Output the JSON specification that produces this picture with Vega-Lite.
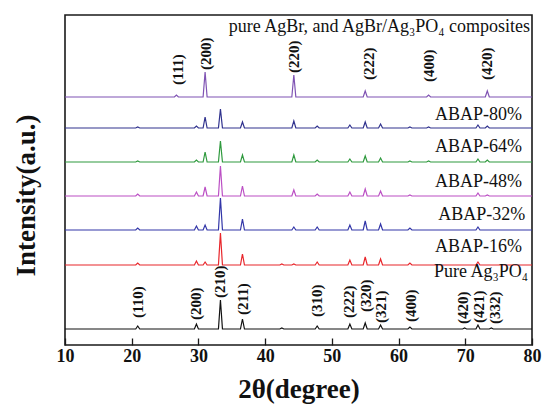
{
  "$schema": "https://vega.github.io/schema/vega-lite/v6.json",
  "width": 467,
  "height": 330,
  "autosize": "none",
  "padding": {"left": 65, "top": 15, "right": 11, "bottom": 60},
  "background": "white",
  "config": {"view": {"stroke": "#1a1a1a", "strokeWidth": 1.6}, "font": "Liberation Serif"},
  "datasets": {
    "xrd": [
      {"sample":"Pure Ag3PO4","theta":10,"intensity":16},
      {"sample":"Pure Ag3PO4","theta":20.6,"intensity":16},{"sample":"Pure Ag3PO4","theta":20.9,"intensity":19},{"sample":"Pure Ag3PO4","theta":21.2,"intensity":16},
      {"sample":"Pure Ag3PO4","theta":29.4,"intensity":16},{"sample":"Pure Ag3PO4","theta":29.7,"intensity":21},{"sample":"Pure Ag3PO4","theta":30,"intensity":16},
      {"sample":"Pure Ag3PO4","theta":33,"intensity":16},{"sample":"Pure Ag3PO4","theta":33.3,"intensity":45},{"sample":"Pure Ag3PO4","theta":33.6,"intensity":16},
      {"sample":"Pure Ag3PO4","theta":36.3,"intensity":16},{"sample":"Pure Ag3PO4","theta":36.6,"intensity":26},{"sample":"Pure Ag3PO4","theta":36.9,"intensity":16},
      {"sample":"Pure Ag3PO4","theta":42.2,"intensity":16},{"sample":"Pure Ag3PO4","theta":42.5,"intensity":17},{"sample":"Pure Ag3PO4","theta":42.8,"intensity":16},
      {"sample":"Pure Ag3PO4","theta":47.5,"intensity":16},{"sample":"Pure Ag3PO4","theta":47.8,"intensity":19},{"sample":"Pure Ag3PO4","theta":48.1,"intensity":16},
      {"sample":"Pure Ag3PO4","theta":52.4,"intensity":16},{"sample":"Pure Ag3PO4","theta":52.7,"intensity":21},{"sample":"Pure Ag3PO4","theta":53,"intensity":16},
      {"sample":"Pure Ag3PO4","theta":54.7,"intensity":16},{"sample":"Pure Ag3PO4","theta":55,"intensity":22},{"sample":"Pure Ag3PO4","theta":55.3,"intensity":16},
      {"sample":"Pure Ag3PO4","theta":57,"intensity":16},{"sample":"Pure Ag3PO4","theta":57.3,"intensity":20},{"sample":"Pure Ag3PO4","theta":57.6,"intensity":16},
      {"sample":"Pure Ag3PO4","theta":61.4,"intensity":16},{"sample":"Pure Ag3PO4","theta":61.7,"intensity":18},{"sample":"Pure Ag3PO4","theta":62,"intensity":16},
      {"sample":"Pure Ag3PO4","theta":69.6,"intensity":16},{"sample":"Pure Ag3PO4","theta":69.9,"intensity":17},{"sample":"Pure Ag3PO4","theta":70.2,"intensity":16},
      {"sample":"Pure Ag3PO4","theta":71.6,"intensity":16},{"sample":"Pure Ag3PO4","theta":71.9,"intensity":20},{"sample":"Pure Ag3PO4","theta":72.2,"intensity":16},
      {"sample":"Pure Ag3PO4","theta":73.6,"intensity":16},{"sample":"Pure Ag3PO4","theta":73.9,"intensity":17},{"sample":"Pure Ag3PO4","theta":74.2,"intensity":16},
      {"sample":"Pure Ag3PO4","theta":80,"intensity":16},

      {"sample":"ABAP-16%","theta":10,"intensity":80},
      {"sample":"ABAP-16%","theta":20.6,"intensity":80},{"sample":"ABAP-16%","theta":20.9,"intensity":82},{"sample":"ABAP-16%","theta":21.2,"intensity":80},
      {"sample":"ABAP-16%","theta":29.4,"intensity":80},{"sample":"ABAP-16%","theta":29.7,"intensity":84},{"sample":"ABAP-16%","theta":30,"intensity":80},
      {"sample":"ABAP-16%","theta":30.7,"intensity":80},{"sample":"ABAP-16%","theta":31,"intensity":83},{"sample":"ABAP-16%","theta":31.3,"intensity":80},
      {"sample":"ABAP-16%","theta":33,"intensity":80},{"sample":"ABAP-16%","theta":33.3,"intensity":112},{"sample":"ABAP-16%","theta":33.6,"intensity":80},
      {"sample":"ABAP-16%","theta":36.3,"intensity":80},{"sample":"ABAP-16%","theta":36.6,"intensity":91},{"sample":"ABAP-16%","theta":36.9,"intensity":80},
      {"sample":"ABAP-16%","theta":42.2,"intensity":80},{"sample":"ABAP-16%","theta":42.5,"intensity":81},{"sample":"ABAP-16%","theta":42.8,"intensity":80},
      {"sample":"ABAP-16%","theta":44,"intensity":80},{"sample":"ABAP-16%","theta":44.3,"intensity":81},{"sample":"ABAP-16%","theta":44.6,"intensity":80},
      {"sample":"ABAP-16%","theta":47.5,"intensity":80},{"sample":"ABAP-16%","theta":47.8,"intensity":83},{"sample":"ABAP-16%","theta":48.1,"intensity":80},
      {"sample":"ABAP-16%","theta":52.4,"intensity":80},{"sample":"ABAP-16%","theta":52.7,"intensity":85},{"sample":"ABAP-16%","theta":53,"intensity":80},
      {"sample":"ABAP-16%","theta":54.7,"intensity":80},{"sample":"ABAP-16%","theta":55,"intensity":88},{"sample":"ABAP-16%","theta":55.3,"intensity":80},
      {"sample":"ABAP-16%","theta":57,"intensity":80},{"sample":"ABAP-16%","theta":57.3,"intensity":86},{"sample":"ABAP-16%","theta":57.6,"intensity":80},
      {"sample":"ABAP-16%","theta":61.4,"intensity":80},{"sample":"ABAP-16%","theta":61.7,"intensity":82},{"sample":"ABAP-16%","theta":62,"intensity":80},
      {"sample":"ABAP-16%","theta":71.6,"intensity":80},{"sample":"ABAP-16%","theta":71.9,"intensity":83},{"sample":"ABAP-16%","theta":72.2,"intensity":80},
      {"sample":"ABAP-16%","theta":80,"intensity":80},

      {"sample":"ABAP-32%","theta":10,"intensity":115},
      {"sample":"ABAP-32%","theta":20.6,"intensity":115},{"sample":"ABAP-32%","theta":20.9,"intensity":117},{"sample":"ABAP-32%","theta":21.2,"intensity":115},
      {"sample":"ABAP-32%","theta":29.4,"intensity":115},{"sample":"ABAP-32%","theta":29.7,"intensity":119},{"sample":"ABAP-32%","theta":30,"intensity":115},
      {"sample":"ABAP-32%","theta":30.7,"intensity":115},{"sample":"ABAP-32%","theta":31,"intensity":120},{"sample":"ABAP-32%","theta":31.3,"intensity":115},
      {"sample":"ABAP-32%","theta":33,"intensity":115},{"sample":"ABAP-32%","theta":33.3,"intensity":147},{"sample":"ABAP-32%","theta":33.6,"intensity":115},
      {"sample":"ABAP-32%","theta":36.3,"intensity":115},{"sample":"ABAP-32%","theta":36.6,"intensity":126},{"sample":"ABAP-32%","theta":36.9,"intensity":115},
      {"sample":"ABAP-32%","theta":44,"intensity":115},{"sample":"ABAP-32%","theta":44.3,"intensity":118},{"sample":"ABAP-32%","theta":44.6,"intensity":115},
      {"sample":"ABAP-32%","theta":47.5,"intensity":115},{"sample":"ABAP-32%","theta":47.8,"intensity":118},{"sample":"ABAP-32%","theta":48.1,"intensity":115},
      {"sample":"ABAP-32%","theta":52.4,"intensity":115},{"sample":"ABAP-32%","theta":52.7,"intensity":120},{"sample":"ABAP-32%","theta":53,"intensity":115},
      {"sample":"ABAP-32%","theta":54.7,"intensity":115},{"sample":"ABAP-32%","theta":55,"intensity":124},{"sample":"ABAP-32%","theta":55.3,"intensity":115},
      {"sample":"ABAP-32%","theta":57,"intensity":115},{"sample":"ABAP-32%","theta":57.3,"intensity":121},{"sample":"ABAP-32%","theta":57.6,"intensity":115},
      {"sample":"ABAP-32%","theta":61.4,"intensity":115},{"sample":"ABAP-32%","theta":61.7,"intensity":117},{"sample":"ABAP-32%","theta":62,"intensity":115},
      {"sample":"ABAP-32%","theta":71.6,"intensity":115},{"sample":"ABAP-32%","theta":71.9,"intensity":118},{"sample":"ABAP-32%","theta":72.2,"intensity":115},
      {"sample":"ABAP-32%","theta":80,"intensity":115},

      {"sample":"ABAP-48%","theta":10,"intensity":149},
      {"sample":"ABAP-48%","theta":20.6,"intensity":149},{"sample":"ABAP-48%","theta":20.9,"intensity":151},{"sample":"ABAP-48%","theta":21.2,"intensity":149},
      {"sample":"ABAP-48%","theta":29.4,"intensity":149},{"sample":"ABAP-48%","theta":29.7,"intensity":153},{"sample":"ABAP-48%","theta":30,"intensity":149},
      {"sample":"ABAP-48%","theta":30.7,"intensity":149},{"sample":"ABAP-48%","theta":31,"intensity":158},{"sample":"ABAP-48%","theta":31.3,"intensity":149},
      {"sample":"ABAP-48%","theta":33,"intensity":149},{"sample":"ABAP-48%","theta":33.3,"intensity":179},{"sample":"ABAP-48%","theta":33.6,"intensity":149},
      {"sample":"ABAP-48%","theta":36.3,"intensity":149},{"sample":"ABAP-48%","theta":36.6,"intensity":159},{"sample":"ABAP-48%","theta":36.9,"intensity":149},
      {"sample":"ABAP-48%","theta":44,"intensity":149},{"sample":"ABAP-48%","theta":44.3,"intensity":155},{"sample":"ABAP-48%","theta":44.6,"intensity":149},
      {"sample":"ABAP-48%","theta":47.5,"intensity":149},{"sample":"ABAP-48%","theta":47.8,"intensity":151},{"sample":"ABAP-48%","theta":48.1,"intensity":149},
      {"sample":"ABAP-48%","theta":52.4,"intensity":149},{"sample":"ABAP-48%","theta":52.7,"intensity":153},{"sample":"ABAP-48%","theta":53,"intensity":149},
      {"sample":"ABAP-48%","theta":54.7,"intensity":149},{"sample":"ABAP-48%","theta":55,"intensity":156},{"sample":"ABAP-48%","theta":55.3,"intensity":149},
      {"sample":"ABAP-48%","theta":57,"intensity":149},{"sample":"ABAP-48%","theta":57.3,"intensity":154},{"sample":"ABAP-48%","theta":57.6,"intensity":149},
      {"sample":"ABAP-48%","theta":61.4,"intensity":149},{"sample":"ABAP-48%","theta":61.7,"intensity":150},{"sample":"ABAP-48%","theta":62,"intensity":149},
      {"sample":"ABAP-48%","theta":71.6,"intensity":149},{"sample":"ABAP-48%","theta":71.9,"intensity":152},{"sample":"ABAP-48%","theta":72.2,"intensity":149},
      {"sample":"ABAP-48%","theta":73,"intensity":149},{"sample":"ABAP-48%","theta":73.3,"intensity":150},{"sample":"ABAP-48%","theta":73.6,"intensity":149},
      {"sample":"ABAP-48%","theta":80,"intensity":149},

      {"sample":"ABAP-64%","theta":10,"intensity":183},
      {"sample":"ABAP-64%","theta":20.6,"intensity":183},{"sample":"ABAP-64%","theta":20.9,"intensity":184},{"sample":"ABAP-64%","theta":21.2,"intensity":183},
      {"sample":"ABAP-64%","theta":29.4,"intensity":183},{"sample":"ABAP-64%","theta":29.7,"intensity":185},{"sample":"ABAP-64%","theta":30,"intensity":183},
      {"sample":"ABAP-64%","theta":30.7,"intensity":183},{"sample":"ABAP-64%","theta":31,"intensity":193},{"sample":"ABAP-64%","theta":31.3,"intensity":183},
      {"sample":"ABAP-64%","theta":33,"intensity":183},{"sample":"ABAP-64%","theta":33.3,"intensity":204},{"sample":"ABAP-64%","theta":33.6,"intensity":183},
      {"sample":"ABAP-64%","theta":36.3,"intensity":183},{"sample":"ABAP-64%","theta":36.6,"intensity":190},{"sample":"ABAP-64%","theta":36.9,"intensity":183},
      {"sample":"ABAP-64%","theta":44,"intensity":183},{"sample":"ABAP-64%","theta":44.3,"intensity":190},{"sample":"ABAP-64%","theta":44.6,"intensity":183},
      {"sample":"ABAP-64%","theta":47.5,"intensity":183},{"sample":"ABAP-64%","theta":47.8,"intensity":185},{"sample":"ABAP-64%","theta":48.1,"intensity":183},
      {"sample":"ABAP-64%","theta":52.4,"intensity":183},{"sample":"ABAP-64%","theta":52.7,"intensity":186},{"sample":"ABAP-64%","theta":53,"intensity":183},
      {"sample":"ABAP-64%","theta":54.7,"intensity":183},{"sample":"ABAP-64%","theta":55,"intensity":189},{"sample":"ABAP-64%","theta":55.3,"intensity":183},
      {"sample":"ABAP-64%","theta":57,"intensity":183},{"sample":"ABAP-64%","theta":57.3,"intensity":187},{"sample":"ABAP-64%","theta":57.6,"intensity":183},
      {"sample":"ABAP-64%","theta":61.4,"intensity":183},{"sample":"ABAP-64%","theta":61.7,"intensity":184},{"sample":"ABAP-64%","theta":62,"intensity":183},
      {"sample":"ABAP-64%","theta":64.2,"intensity":183},{"sample":"ABAP-64%","theta":64.5,"intensity":184},{"sample":"ABAP-64%","theta":64.8,"intensity":183},
      {"sample":"ABAP-64%","theta":71.6,"intensity":183},{"sample":"ABAP-64%","theta":71.9,"intensity":186},{"sample":"ABAP-64%","theta":72.2,"intensity":183},
      {"sample":"ABAP-64%","theta":73,"intensity":183},{"sample":"ABAP-64%","theta":73.3,"intensity":185},{"sample":"ABAP-64%","theta":73.6,"intensity":183},
      {"sample":"ABAP-64%","theta":80,"intensity":183},

      {"sample":"ABAP-80%","theta":10,"intensity":217},
      {"sample":"ABAP-80%","theta":20.6,"intensity":217},{"sample":"ABAP-80%","theta":20.9,"intensity":218},{"sample":"ABAP-80%","theta":21.2,"intensity":217},
      {"sample":"ABAP-80%","theta":29.4,"intensity":217},{"sample":"ABAP-80%","theta":29.7,"intensity":219},{"sample":"ABAP-80%","theta":30,"intensity":217},
      {"sample":"ABAP-80%","theta":30.7,"intensity":217},{"sample":"ABAP-80%","theta":31,"intensity":228},{"sample":"ABAP-80%","theta":31.3,"intensity":217},
      {"sample":"ABAP-80%","theta":33,"intensity":217},{"sample":"ABAP-80%","theta":33.3,"intensity":236},{"sample":"ABAP-80%","theta":33.6,"intensity":217},
      {"sample":"ABAP-80%","theta":36.3,"intensity":217},{"sample":"ABAP-80%","theta":36.6,"intensity":223},{"sample":"ABAP-80%","theta":36.9,"intensity":217},
      {"sample":"ABAP-80%","theta":44,"intensity":217},{"sample":"ABAP-80%","theta":44.3,"intensity":224},{"sample":"ABAP-80%","theta":44.6,"intensity":217},
      {"sample":"ABAP-80%","theta":47.5,"intensity":217},{"sample":"ABAP-80%","theta":47.8,"intensity":219},{"sample":"ABAP-80%","theta":48.1,"intensity":217},
      {"sample":"ABAP-80%","theta":52.4,"intensity":217},{"sample":"ABAP-80%","theta":52.7,"intensity":220},{"sample":"ABAP-80%","theta":53,"intensity":217},
      {"sample":"ABAP-80%","theta":54.7,"intensity":217},{"sample":"ABAP-80%","theta":55,"intensity":223},{"sample":"ABAP-80%","theta":55.3,"intensity":217},
      {"sample":"ABAP-80%","theta":57,"intensity":217},{"sample":"ABAP-80%","theta":57.3,"intensity":221},{"sample":"ABAP-80%","theta":57.6,"intensity":217},
      {"sample":"ABAP-80%","theta":61.4,"intensity":217},{"sample":"ABAP-80%","theta":61.7,"intensity":218},{"sample":"ABAP-80%","theta":62,"intensity":217},
      {"sample":"ABAP-80%","theta":64.2,"intensity":217},{"sample":"ABAP-80%","theta":64.5,"intensity":218},{"sample":"ABAP-80%","theta":64.8,"intensity":217},
      {"sample":"ABAP-80%","theta":71.6,"intensity":217},{"sample":"ABAP-80%","theta":71.9,"intensity":220},{"sample":"ABAP-80%","theta":72.2,"intensity":217},
      {"sample":"ABAP-80%","theta":73,"intensity":217},{"sample":"ABAP-80%","theta":73.3,"intensity":219},{"sample":"ABAP-80%","theta":73.6,"intensity":217},
      {"sample":"ABAP-80%","theta":80,"intensity":217},

      {"sample":"Pure AgBr","theta":10,"intensity":248},
      {"sample":"Pure AgBr","theta":26.4,"intensity":248},{"sample":"Pure AgBr","theta":26.7,"intensity":250},{"sample":"Pure AgBr","theta":27,"intensity":248},
      {"sample":"Pure AgBr","theta":30.7,"intensity":248},{"sample":"Pure AgBr","theta":31,"intensity":273},{"sample":"Pure AgBr","theta":31.3,"intensity":248},
      {"sample":"Pure AgBr","theta":44,"intensity":248},{"sample":"Pure AgBr","theta":44.3,"intensity":270},{"sample":"Pure AgBr","theta":44.6,"intensity":248},
      {"sample":"Pure AgBr","theta":54.7,"intensity":248},{"sample":"Pure AgBr","theta":55,"intensity":254},{"sample":"Pure AgBr","theta":55.3,"intensity":248},
      {"sample":"Pure AgBr","theta":64.2,"intensity":248},{"sample":"Pure AgBr","theta":64.5,"intensity":250},{"sample":"Pure AgBr","theta":64.8,"intensity":248},
      {"sample":"Pure AgBr","theta":73,"intensity":248},{"sample":"Pure AgBr","theta":73.3,"intensity":254},{"sample":"Pure AgBr","theta":73.6,"intensity":248},
      {"sample":"Pure AgBr","theta":80,"intensity":248}
    ],
    "hkl": [
      {"theta":20.9,"intensity":27,"label":"(110)"},
      {"theta":29.7,"intensity":25,"label":"(200)"},
      {"theta":33.3,"intensity":47,"label":"(210)"},
      {"theta":36.7,"intensity":30,"label":"(211)"},
      {"theta":47.8,"intensity":28,"label":"(310)"},
      {"theta":52.5,"intensity":27,"label":"(222)"},
      {"theta":55.1,"intensity":33,"label":"(320)"},
      {"theta":57.3,"intensity":22,"label":"(321)"},
      {"theta":61.8,"intensity":23,"label":"(400)"},
      {"theta":69.6,"intensity":21,"label":"(420)"},
      {"theta":72.0,"intensity":22,"label":"(421)"},
      {"theta":74.4,"intensity":21,"label":"(332)"},
      {"theta":26.9,"intensity":260,"label":"(111)"},
      {"theta":31.2,"intensity":275,"label":"(200)"},
      {"theta":44.4,"intensity":272,"label":"(220)"},
      {"theta":55.6,"intensity":265,"label":"(222)"},
      {"theta":64.5,"intensity":263,"label":"(400)"},
      {"theta":73.3,"intensity":265,"label":"(420)"}
    ],
    "names": [
      {"theta":79.7,"intensity":313,"label":"pure AgBr, and AgBr/Ag₃PO₄ composites"},
      {"theta":78.5,"intensity":225,"label":"ABAP-80%"},
      {"theta":78.5,"intensity":193,"label":"ABAP-64%"},
      {"theta":78.5,"intensity":158,"label":"ABAP-48%"},
      {"theta":79.0,"intensity":125,"label":"ABAP-32%"},
      {"theta":78.5,"intensity":93,"label":"ABAP-16%"},
      {"theta":79.4,"intensity":68,"label":"Pure Ag₃PO₄"}
    ]
  },
  "layer": [
    {
      "data": {"name": "xrd"},
      "mark": {"type": "line", "strokeWidth": 1.2},
      "encoding": {
        "x": {
          "field": "theta", "type": "quantitative",
          "scale": {"domain": [10, 80], "nice": false, "zero": false},
          "axis": {
            "title": "2θ(degree)",
            "values": [10,15,20,25,30,35,40,45,50,55,60,65,70,75,80],
            "labelExpr": "datum.value % 10 === 0 ? datum.label : ''",
            "tickSize": {"condition": {"test": "datum.value % 10 === 0", "value": -7}, "value": -4},
            "tickColor": "#1a1a1a", "tickWidth": 1.3,
            "domain": false, "grid": false,
            "labelFont": "Liberation Serif", "labelFontWeight": "bold", "labelFontSize": 18, "labelColor": "#111",
            "labelPadding": 9, "labelFlush": false,
            "titleFont": "Liberation Serif", "titleFontWeight": "bold", "titleFontSize": 27, "titleColor": "#111",
            "titlePadding": 11
          }
        },
        "y": {
          "field": "intensity", "type": "quantitative",
          "scale": {"domain": [0, 330], "nice": false, "zero": false},
          "axis": {
            "title": "Intensity(a.u.)",
            "labels": false, "ticks": false, "domain": false, "grid": false,
            "titleFont": "Liberation Serif", "titleFontWeight": "bold", "titleFontSize": 27, "titleColor": "#111",
            "titleAngle": 270, "titleAlign": "center", "titleBaseline": "middle",
            "titleX": -39, "titleY": 180
          }
        },
        "color": {
          "field": "sample", "type": "nominal",
          "scale": {
            "domain": ["Pure Ag3PO4","ABAP-16%","ABAP-32%","ABAP-48%","ABAP-64%","ABAP-80%","Pure AgBr"],
            "range": ["#111111","#e8262b","#3236a8","#bb4fc4","#2f9a3e","#30328e","#7f53b3"]
          },
          "legend": null
        }
      }
    },
    {
      "data": {"name": "hkl"},
      "mark": {"type": "text", "angle": 270, "align": "left", "baseline": "middle", "font": "Liberation Serif", "fontWeight": "bold", "fontSize": 15, "color": "#111"},
      "encoding": {
        "x": {"field": "theta", "type": "quantitative"},
        "y": {"field": "intensity", "type": "quantitative"},
        "text": {"field": "label"}
      }
    },
    {
      "data": {"name": "names"},
      "mark": {"type": "text", "align": "right", "baseline": "alphabetic", "font": "Liberation Serif", "fontSize": 18, "color": "#111"},
      "encoding": {
        "x": {"field": "theta", "type": "quantitative"},
        "y": {"field": "intensity", "type": "quantitative"},
        "text": {"field": "label"}
      }
    }
  ]
}
